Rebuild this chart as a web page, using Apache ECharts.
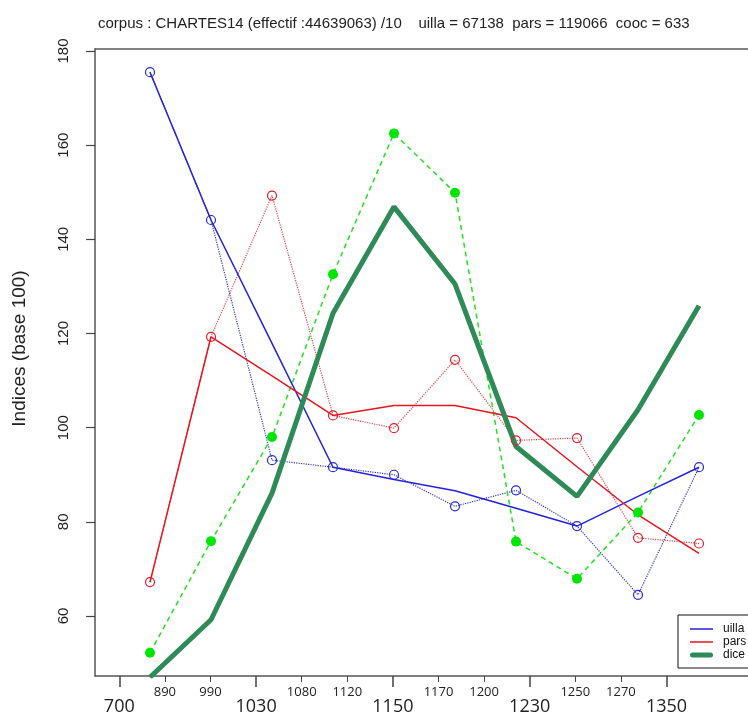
<!DOCTYPE html>
<html>
<head>
<meta charset="utf-8">
<script src="https://cdn.jsdelivr.net/npm/echarts@6/dist/echarts.min.js"></script>
<style>
    html, body { margin: 0; padding: 0; background: #fff; }
    #main { width: 748px; height: 716px; }
</style>
</head>
<body>
<div id="main"></div>
<script>
// les 10 périodes, placées à intervalles réguliers
var periods = [1, 2, 3, 4, 5, 6, 7, 8, 9, 10];
// graduations de l'axe x (deux rangées)
var tickLabels = ['700', '890', '990', '1030', '1080', '1120', '1150', '1170', '1200', '1230', '1250', '1270', '1350'];
var bigTicks = ['700', '1030', '1150', '1230', '1350'];
var yTicks = [60, 80, 100, 120, 140, 160, 180];

// valeurs brutes (points)
var uillaPts = [175.5, 144.1, 93.1, 91.6, 90.0, 83.3, 86.7, 79.1, 64.5, 91.6];
var parsPts = [67.2, 119.3, 149.3, 102.6, 99.9, 114.4, 97.3, 97.8, 76.6, 75.4];
var dicePts = [52.2, 75.9, 98.0, 132.6, 162.5, 149.9, 75.8, 67.9, 82.0, 102.7];
// courbes lissées
var uillaLine = [175.5, 144.1, 117.9, 91.6, 89.0, 86.6, 82.9, 79.1, 85.4, 91.6];
var parsLine = [67.2, 119.3, 111.0, 102.6, 104.7, 104.7, 102.1, 91.7, 81.5, 73.3];
var diceLine = [47.0, 59.2, 86.1, 124.3, 146.9, 130.5, 96.0, 85.4, 103.8, 125.9];

var titleText = 'corpus : CHARTES14 (effectif :44639063) /10    uilla = 67138  pars = 119066  cooc = 633';

function pairs(values) {
    let out = [];
    for (let i = 0; i < values.length; i++) {
        out.push([periods[i], values[i]]);
    }
    return out;
}

function isBig(value) {
    return bigTicks.indexOf(value) >= 0;
}

var FONT = 'Liberation Sans, Arial, sans-serif';
var TICK_FONT = 'Open Sans, Noto Sans, sans-serif';
var BOX = {color: '#555', width: 1.5};

var chartDom = document.getElementById('main');
var myChart = echarts.init(chartDom, null, {renderer: 'canvas'});

var option = {
    animation: false,
    backgroundColor: '#fff',
    title: {
        text: titleText,
        left: 93,
        top: 11,
        textStyle: {fontFamily: FONT, fontSize: 15, fontWeight: 'normal', color: '#222'}
    },
    legend: {
        orient: 'vertical',
        left: 678,
        top: 615,
        padding: [8, 60, 7, 12],
        itemWidth: 23,
        itemHeight: 14,
        itemGap: 1,
        symbolKeepAspect: true,
        backgroundColor: '#fff',
        borderColor: '#111',
        borderWidth: 1,
        borderRadius: 0,
        data: [
            {name: 'uilla', icon: 'path://M0,0h23v1.5h-23z'},
            {name: 'pars', icon: 'path://M0,0h23v1.5h-23z'},
            {name: 'dice', icon: 'path://M2.5,0h18a2.5,2.5 0 0 1 0,5h-18a2.5,2.5 0 0 1 0,-5z'}
        ],
        textStyle: {fontFamily: FONT, fontSize: 12, color: '#111', padding: [0, 0, 0, 5]}
    },
    grid: [
        {left: 95.1, top: 49, right: 0, height: 627, show: false},
        {left: 119.3, top: 49, width: 547.2, height: 627, show: false}
    ],
    xAxis: [
        {
            type: 'value', gridIndex: 0, min: 0.1, max: 10.803, position: 'bottom',
            axisLine: {show: true, lineStyle: BOX}, axisTick: {show: false}, axisLabel: {show: false}, splitLine: {show: false}
        },
        {
            // petites graduations
            type: 'category', gridIndex: 1, position: 'bottom', offset: 0, boundaryGap: false, data: tickLabels,
            axisLine: {show: false},
            axisTick: {
                interval: function (index, value) { return !isBig(value); },
                length: 6, lineStyle: {color: '#444', width: 1}
            },
            axisLabel: {
                interval: function (index, value) { return !isBig(value); },
                margin: 10, fontFamily: TICK_FONT, fontSize: 13, color: '#222'
            },
            splitLine: {show: false}
        },
        {
            // grandes graduations
            type: 'category', gridIndex: 1, position: 'bottom', offset: 0, boundaryGap: false, data: tickLabels,
            axisLine: {show: false},
            axisTick: {
                interval: function (index, value) { return isBig(value); },
                length: 11, lineStyle: {color: '#444', width: 1.5}
            },
            axisLabel: {
                interval: function (index, value) { return isBig(value); },
                margin: 22, fontFamily: TICK_FONT, fontSize: 18, color: '#222'
            },
            splitLine: {show: false}
        },
        {
            // bord supérieur du cadre
            type: 'value', gridIndex: 0, min: 0.1, max: 10.803, position: 'top',
            axisLine: {show: true, lineStyle: BOX}, axisTick: {show: false}, axisLabel: {show: false}, splitLine: {show: false}
        }
    ],
    yAxis: [
        {
            type: 'value', gridIndex: 0, min: 47.26, max: 180.42,
            name: 'Indices (base 100)', nameLocation: 'middle', nameGap: 66,
            nameTextStyle: {fontFamily: FONT, fontSize: 19, color: '#222', padding: [0, 0, 0, 28]},
            axisLine: {show: true, lineStyle: BOX},
            axisTick: {show: true, customValues: yTicks, length: 9, lineStyle: {color: '#444', width: 1.2}},
            axisLabel: {customValues: yTicks, rotate: 90, margin: 24, fontFamily: FONT, fontSize: 15, color: '#222'},
            splitLine: {show: false}
        },
        {
            type: 'value', gridIndex: 1, min: 0, max: 1, show: false
        }
    ],
    series: [
        {
            name: 'uilla pts', type: 'line', data: pairs(uillaPts),
            symbol: 'circle', symbolSize: 9, clip: true,
            lineStyle: {color: '#3434c8', width: 1.2, type: 'dotted'},
            itemStyle: {color: 'rgba(255,255,255,0)', borderColor: '#2a2ad8', borderWidth: 1.2}
        },
        {
            name: 'pars pts', type: 'line', data: pairs(parsPts),
            symbol: 'circle', symbolSize: 9, clip: true,
            lineStyle: {color: '#dc4450', width: 1.2, type: 'dotted'},
            itemStyle: {color: 'rgba(255,255,255,0)', borderColor: '#e01c28', borderWidth: 1.2}
        },
        {
            name: 'dice pts', type: 'line', data: pairs(dicePts),
            symbol: 'circle', symbolSize: 10, clip: true,
            lineStyle: {color: '#22e022', width: 1.5, type: [5, 4]},
            itemStyle: {color: '#00e600'}
        },
        {
            name: 'uilla', type: 'line', data: pairs(uillaLine),
            symbol: 'none', clip: true, color: '#2222e0',
            lineStyle: {color: '#2222e0', width: 1.5}
        },
        {
            name: 'pars', type: 'line', data: pairs(parsLine),
            symbol: 'none', clip: true, color: '#e8141e',
            lineStyle: {color: '#e8141e', width: 1.5}
        },
        {
            name: 'dice', type: 'line', data: pairs(diceLine),
            symbol: 'none', clip: true, color: '#2e8b57',
            lineStyle: {color: '#2e8b57', width: 5}
        }
    ]
};

option && myChart.setOption(option);
</script>
</body>
</html>
